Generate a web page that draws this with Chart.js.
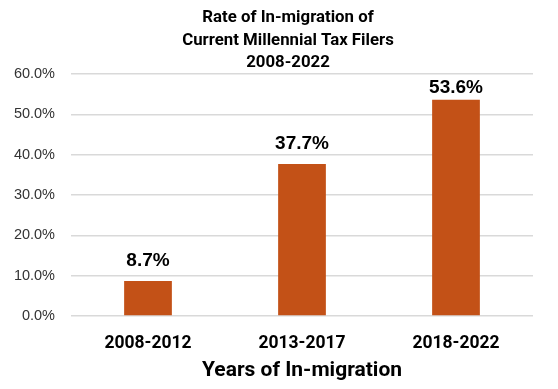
<!DOCTYPE html>
<html>
<head>
<meta charset="utf-8">
<script src="https://cdn.jsdelivr.net/npm/chart.js@4"></script>
<style>
html,body{margin:0;padding:0;background:#fff;}
#wrap{width:558px;height:389px;}
</style>
</head>
<body>
<div id="wrap"><canvas id="c" width="558" height="389"></canvas></div>
<script>
const categories = ['2008-2012', '2013-2017', '2018-2022'];
const rates = [8.7, 37.7, 53.6];
const titleLines = ['Rate of In-migration of', 'Current Millennial Tax Filers', '2008-2022'];
const xTitle = 'Years of In-migration';
const barColor = '#C35117';

const labelPlugin = {
  id: 'barLabels',
  afterDatasetsDraw(chart) {
    const ctx = chart.ctx;
    const meta = chart.getDatasetMeta(0);
    ctx.save();
    ctx.font = 'bold 19px "Liberation Sans", Arial, sans-serif';
    ctx.fillStyle = '#000';
    ctx.textAlign = 'center';
    ctx.textBaseline = 'alphabetic';
    meta.data.forEach((bar, i) => {
      const y = Math.max(bar.y - 15, chart.chartArea.top + 19);
      ctx.fillText(rates[i].toFixed(1) + '%', bar.x, y);
    });
    ctx.restore();
  }
};

const titlePlugin = {
  id: 'multiTitle',
  afterDraw(chart) {
    const ctx = chart.ctx;
    ctx.save();
    ctx.font = 'bold 16.8px Roboto, sans-serif';
    ctx.fillStyle = '#000';
    ctx.textAlign = 'center';
    ctx.textBaseline = 'alphabetic';
    const cx = (chart.chartArea.left + chart.chartArea.right) / 2 - 14;
    titleLines.forEach((t, i) => ctx.fillText(t, cx, 22 + i * 22.7));
    ctx.restore();
  }
};

new Chart(document.getElementById('c'), {
  type: 'bar',
  data: {
    labels: categories,
    datasets: [{
      data: rates,
      backgroundColor: barColor,
      borderWidth: 0,
      categoryPercentage: 1,
      barPercentage: 0.31
    }]
  },
  options: {
    responsive: false,
    animation: false,
    devicePixelRatio: 1,
    layout: { padding: { left: 0, right: 25, top: 74, bottom: 0 } },
    plugins: {
      legend: { display: false },
      tooltip: { enabled: false },
      title: { display: false }
    },
    scales: {
      y: {
        min: 0, max: 60,
        ticks: {
          stepSize: 10,
          color: '#333333',
          padding: 16,
          font: { family: '"Liberation Sans", Arial, sans-serif', size: 14.5 },
          callback: v => v.toFixed(1) + '%'
        },
        grid: { color: '#d9d9d9', lineWidth: 1.5, drawTicks: false },
        border: { display: false },
        afterFit(s) { s.width = 71; }
      },
      x: {
        ticks: {
          color: '#000',
          padding: 17,
          font: { family: 'Roboto, sans-serif', weight: 'bold', size: 17.5 }
        },
        grid: { display: false, drawTicks: false },
        border: { display: false },
        title: {
          display: true,
          text: xTitle,
          color: '#000',
          font: { family: 'Roboto, sans-serif', weight: 'bold', size: 21 },
          padding: { top: 0, bottom: 6 }
        },
        afterFit(s) { s.height = 73; }
      }
    }
  },
  plugins: [labelPlugin, titlePlugin]
});
</script>
</body>
</html>
